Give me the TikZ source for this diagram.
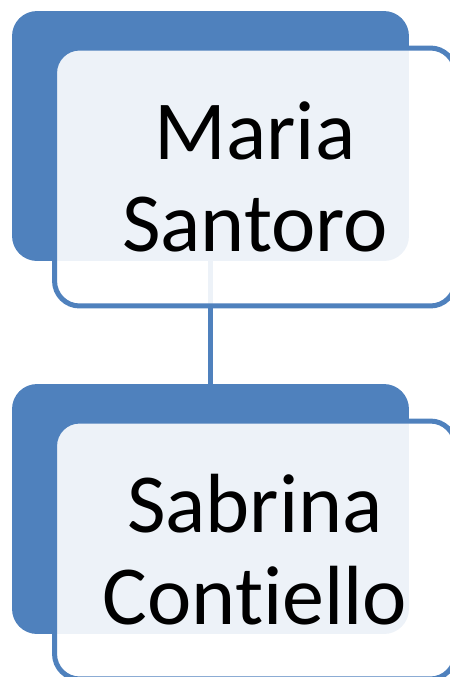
\documentclass[tikz,border=0pt]{standalone}
\usepackage{fontspec}
\setmainfont{Carlito}[Ligatures=NoCommon]
\usepackage{tikz}
\definecolor{boxblue}{HTML}{4F81BD}

\begin{document}
\begin{tikzpicture}[x=0.02cm,y=-0.02cm]
        \tikzstyle{every node} = [rectangle, rounded corners=0.5cm, inner sep=0pt]
        \tikzstyle{back} = [fill=boxblue, minimum width=7.94cm, minimum height=5cm]
        \tikzstyle{front} = [draw=boxblue, line width=0.1cm, fill=white, fill opacity=0.9, text opacity=1,
            minimum width=8.02cm, minimum height=5.16cm, align=center,
            font=\fontsize{47.8}{52.4}\selectfont]
        \useasboundingbox (0,0) rectangle (450,677);
        \node[back] (maria back) at (210.5,136) {};
        \node[back] (sabrina back) at (210.5,509) {};
        \draw[boxblue, line width=0.1cm] (maria back) -- (sabrina back);
        \node[front] (maria) at (255,177) {Maria\\Santoro};
        \node[front] (sabrina) at (255,550) {Sabrina\\Contiello};
    \end{tikzpicture}
\end{document}
